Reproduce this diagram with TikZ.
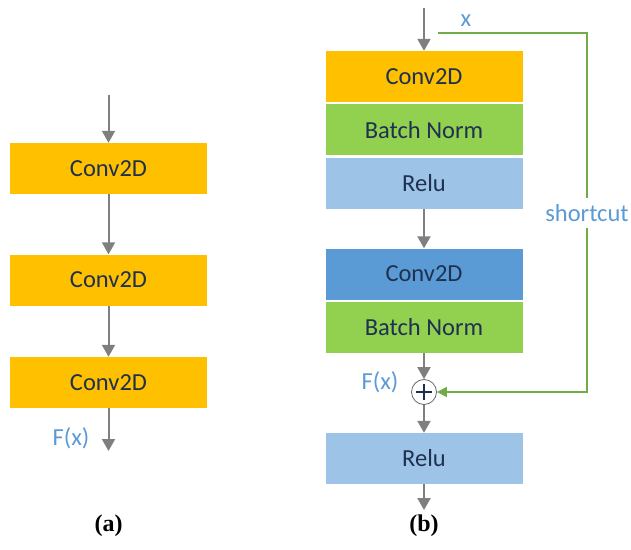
\documentclass[tikz,border=0pt]{standalone}
\usepackage{fontspec}
\setmainfont{Carlito}
\newfontfamily\capfont{Liberation Serif}
\usetikzlibrary{positioning,arrows.meta}

\definecolor{convorange}{HTML}{FFC000}
\definecolor{normgreen}{HTML}{92D050}
\definecolor{relublue}{HTML}{9DC3E6}
\definecolor{convblue}{HTML}{5B9BD5}
\definecolor{textnavy}{HTML}{1F3050}
\definecolor{flowgray}{HTML}{7F7F7F}
\definecolor{skipgreen}{HTML}{70AD47}

\tikzset{
  layer/.style={minimum width=197pt, minimum height=51pt, inner sep=0pt, text=textnavy},
  flow/.style={draw=flowgray, line width=2pt, -{Triangle[length=12pt,width=13pt]}},
  skip/.style={draw=skipgreen, line width=1.2pt, -{Triangle[length=10pt,width=10pt]}},
  tag/.style={text=convblue, inner sep=1pt}
}

\begin{document}
\begin{tikzpicture}[x=1pt, y=-1pt, font=\fontsize{24.5}{28}\selectfont]
        \useasboundingbox (0,0) rectangle (631,549);
        % (a) plain stack
        \node[layer, fill=convorange] (a1) at (108.5,168.5) {Conv2D};
        \node[layer, fill=convorange] (a2) at (108.5,280) {Conv2D};
        \node[layer, fill=convorange] (a3) at (108.5,382.5) {Conv2D};
        \coordinate (ain) at (108.5,95);
        \coordinate (aout) at (108.5,451);
        \draw[flow] (ain) -- (a1);
        \draw[flow] (a1) -- (a2);
        \draw[flow] (a2) -- (a3);
        \draw[flow] (a3) -- (aout);
        \node[tag] (fa) at (71,438) {F(x)};
        \node[font=\capfont\bfseries\fontsize{24}{28}\selectfont] (capa) at (108.5,526) {(a)};

        % (b) residual block
        \node[layer, fill=convorange] (b1) at (424,76.5) {Conv2D};
        \node[layer, fill=normgreen, below=2pt of b1] (b2) {Batch Norm};
        \node[layer, fill=relublue, below=2pt of b2] (b3) {Relu};
        \node[layer, fill=convblue] (b4) at (424,274) {Conv2D};
        \node[layer, fill=normgreen, below=2pt of b4] (b5) {Batch Norm};
        \node[circle, draw=flowgray!80!black, fill=white, line width=0.8pt, minimum size=25pt, inner sep=0pt,
              path picture={\draw[textnavy, line width=1.3pt]
                (path picture bounding box.center) +(-8pt,0) -- +(8pt,0)
                (path picture bounding box.center) +(0,-8pt) -- +(0,8pt);}] (add) at (424,392) {};
        \node[layer, fill=relublue] (b6) at (424,458.5) {Relu};
        \coordinate (bin) at (424,8);
        \coordinate (bout) at (424,510);
        \coordinate (xs) at (438,33);
        \coordinate (sc) at (587,392);
        \draw[flow] (bin) -- (b1);
        \draw[flow] (b3) -- (b4);
        \draw[flow] (b5) -- (add);
        \draw[flow] (add) -- (b6);
        \draw[flow] (b6) -- (bout);
        \draw[skip] (xs) -| (sc) -- (add);
        \node[tag] (xlab) at (466,21) {x};
        \node[tag, fill=white, inner ysep=6pt] (sclab) at (587,213) {shortcut};
        \node[tag] (fb) at (380,382) {F(x)};
        \node[font=\capfont\bfseries\fontsize{24}{28}\selectfont] (capb) at (424,526) {(b)};
    \end{tikzpicture}
\end{document}
